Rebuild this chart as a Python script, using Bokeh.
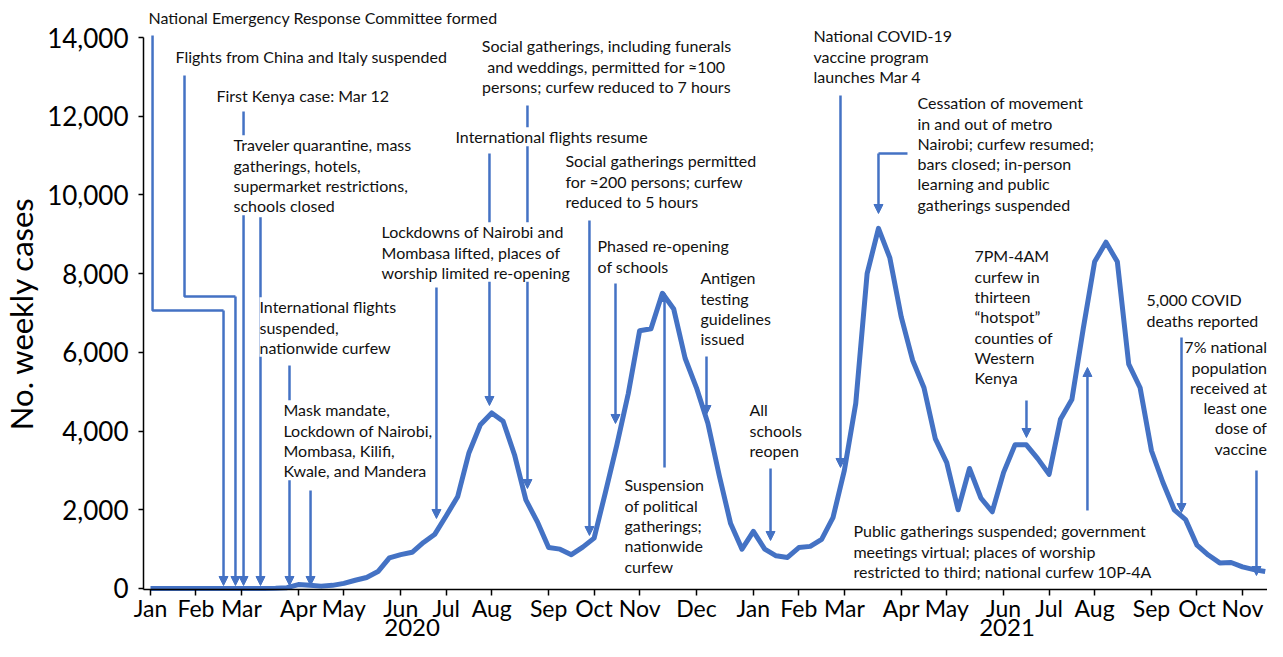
from bokeh.plotting import figure
from bokeh.models import (Range1d, FixedTicker, NumeralTickFormatter, Label,
                          Arrow, NormalHead, ColumnDataSource)
from bokeh.embed import file_html
from bokeh.resources import INLINE

# ---------------- data ----------------
weeks = list(range(99))
cases = [0, 0, 0, 0, 0, 0, 0, 0, 0, 0,
         0, 5, 20, 100, 80, 60, 80, 130, 210, 280,
         430, 780, 860, 920, 1170, 1380, 1850, 2330, 3450, 4160,
         4460, 4250, 3400, 2250, 1700, 1040, 1000, 860, 1050, 1280,
         2450, 3650, 4950, 6550, 6600, 7500, 7100, 5850, 5100, 4200,
         2870, 1650, 1000, 1450, 1000, 830, 790, 1040, 1070, 1250,
         1800, 3000, 4700, 8000, 9150, 8400, 6900, 5800, 5100, 3800,
         3200, 2000, 3050, 2300, 1950, 2950, 3650, 3650, 3300, 2900,
         4300, 4800, 6600, 8300, 8800, 8300, 5700, 5100, 3500, 2700,
         2000, 1750, 1100, 850, 650, 660, 550, 480, 430]

month_ticks = [0, 4, 8, 13, 17, 22, 26, 30, 35, 39, 43, 48,
               53, 57, 61, 66, 70, 75, 79, 83, 88, 92, 96]
month_labels = ["Jan", "Feb", "Mar", "Apr", "May", "Jun", "Jul", "Aug", "Sep", "Oct", "Nov", "Dec",
                "Jan", "Feb", "Mar", "Apr", "May", "Jun", "Jul", "Aug", "Sep", "Oct", "Nov"]
year_pos = [23, 75.3]
year_labels = ["2020", "2021"]
y_ticks = [0, 2000, 4000, 6000, 8000, 10000, 12000, 14000]

BLUE = "#4472C4"
TXT = "#111111"
FONT = "Lato"
AXIS_Y = -25          # value at which the month axis is drawn
AXIS_X = -0.615       # week position at which the count axis is drawn
X_END = 98.2

p = figure(width=1267, height=641, output_backend="svg", toolbar_location=None,
           x_range=Range1d(-13.187, X_END), y_range=Range1d(-1347, 14941),
           min_border_left=0, min_border_right=0, min_border_top=0,
           min_border_bottom=0, background_fill_color="white",
           border_fill_color="white", outline_line_color=None)
p.grid.visible = False

# axes
xa = p.xaxis[0]
xa.fixed_location = AXIS_Y
xa.bounds = (AXIS_X, X_END)
xa.ticker = FixedTicker(ticks=month_ticks)
xa.major_label_overrides = {t: l for t, l in zip(month_ticks, month_labels)}
xa.minor_tick_line_color = None
xa.major_tick_in = 0
xa.major_tick_out = 6
xa.major_label_standoff = -1
xa.axis_line_width = 1.5
xa.axis_line_color = "black"
xa.major_tick_line_color = "black"
xa.major_tick_line_width = 1.5
xa.major_label_text_font = FONT
xa.major_label_text_font_size = "23px"
xa.major_label_text_color = "black"

ya = p.yaxis[0]
ya.fixed_location = AXIS_X
ya.ticker = FixedTicker(ticks=y_ticks)
ya.formatter = NumeralTickFormatter(format="0,0")
ya.bounds = (AXIS_Y, 14000)
ya.minor_tick_line_color = None
ya.major_tick_in = 0
ya.major_tick_out = 5
ya.major_label_standoff = 10
ya.axis_line_width = 1.5
ya.axis_line_color = "black"
ya.major_tick_line_color = "black"
ya.major_tick_line_width = 1.5
ya.major_label_text_font = FONT
ya.major_label_text_font_size = "26px"
ya.major_label_text_color = "black"
ya.axis_label = "No. weekly cases"
ya.axis_label_text_font = FONT
ya.axis_label_text_font_size = "31px"
ya.axis_label_text_font_style = "normal"
ya.axis_label_text_color = "black"
ya.axis_label_standoff = 4

# -------------- annotation arrows (drawn beneath labels) --------------
def arrow(x, y0, y1):
    p.add_layout(Arrow(end=NormalHead(size=9, fill_color=BLUE, line_color=BLUE, line_width=1),
                       x_start=x, y_start=y0, x_end=x, y_end=y1,
                       line_color=BLUE, line_width=2.5, level="underlay"))

elbow_xs = [[0.18, 0.18, 6.42], [2.99, 2.99, 7.47], [66.55, 64.0]]
elbow_ys = [[14052, 7064, 7064], [13035, 7420, 7420], [11053, 11053]]
p.multi_line(xs=elbow_xs, ys=elbow_ys, line_color=BLUE, line_width=2.5)

arrow(6.42, 7064, 76)
arrow(7.47, 7420, 76)
arrow(8.18, 12121, 76)
arrow(9.67, 9434, 76)
arrow(12.22, 5666, 76)
arrow(14.07, 2490, 76)
arrow(25.14, 7648, 1779)
arrow(29.80, 11053, 4650)
arrow(33.14, 12273, 2541)
arrow(38.59, 9351, 1347)
arrow(40.88, 7750, 4193)
arrow(48.88, 5895, 4421)
arrow(45.19, 3075, 7521)
arrow(54.51, 3049, 1220)
arrow(60.66, 12527, 3075)
arrow(64.0, 11053, 9529)
arrow(77.01, 4777, 3837)
arrow(82.37, 1982, 5616)
arrow(90.64, 6378, 1931)
arrow(97.23, 2998, 330)

# -------------- weekly case line --------------
src = ColumnDataSource(dict(week=weeks, cases=cases))
p.line("week", "cases", source=src, line_color=BLUE, line_width=5, line_join="round")

# -------------- annotation texts --------------
def note(text, x, y, align="left"):
    p.add_layout(Label(x=x, y=y, text=text, text_font=FONT, text_font_size="16px",
                       text_color=TXT, text_align=align, text_baseline="top",
                       text_line_height=1.07, background_fill_color="white",
                       background_fill_alpha=1.0))

note("National Emergency Response Committee formed", -0.18, 14746)
note("Flights from China and Italy suspended", 2.20, 13755)
note("First Kenya case: Mar 12", 5.80, 12764)
note("Traveler quarantine, mass\ngatherings, hotels,\nsupermarket restrictions,\nschools closed", 7.30, 11518)
note("International flights\nsuspended,\nnationwide curfew", 9.58, 7402)
note("Mask mandate,\nLockdown of Nairobi,\nMombasa, Kilifi,\nKwale, and Mandera", 11.69, 4785)
note("Lockdowns of Nairobi and\nMombasa lifted, places of\nworship limited re-opening", 20.31, 9308)
note("International flights resume", 26.81, 11722)
note("Social gatherings, including funerals\nand weddings, permitted for \u2248100\npersons; curfew reduced to 7 hours", 40.09, 14034, "center")
note("Social gatherings permitted\nfor \u2248200 persons; curfew\nreduced to 5 hours", 36.48, 11112)
note("Phased re-opening\nof schools", 39.30, 8952)
note("Antigen\ntesting\nguidelines\nissued", 48.35, 8139)
note("Suspension\nof political\ngatherings;\nnationwide\ncurfew", 41.67, 2879)
note("All\nschools\nreopen", 52.66, 4785)
note("National COVID-19\nvaccine program\nlaunches Mar 4", 58.29, 14288)
note("Cessation of movement\nin and out of metro\nNairobi; curfew resumed;\nbars closed; in-person\nlearning and public\ngatherings suspended", 67.43, 12586)
note("7PM-4AM\ncurfew in\nthirteen\n\u201chotspot\u201d\ncounties of\nWestern\nKenya", 72.44, 8698)
note("Public gatherings suspended; government\nmeetings virtual; places of worship\nrestricted to third; national curfew 10P-4A", 61.80, 1710)
note("5,000 COVID\ndeaths reported", 87.56, 7580)
note("7% national\npopulation\nreceived at\nleast one\ndose of\nvaccine", 98.15, 6386, "right")

# year labels under the month axis
for xp, yl in zip(year_pos, year_labels):
    p.add_layout(Label(x=xp, y=-990, text=yl, text_font=FONT, text_font_size="24px",
                       text_color="black", text_align="center", text_baseline="middle"))

open("out.html", "w").write(file_html(p, INLINE))
